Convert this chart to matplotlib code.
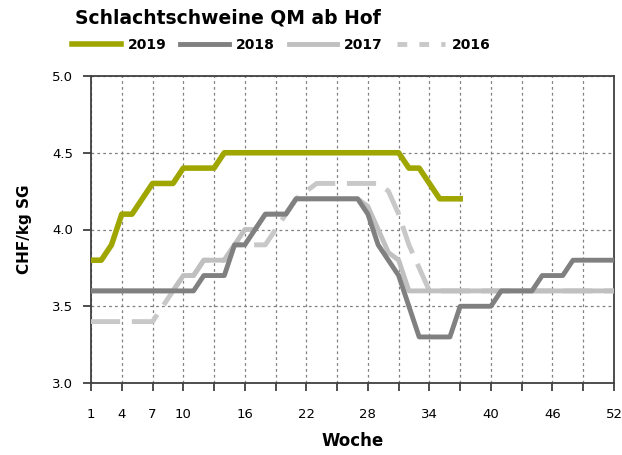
import numpy as np
import matplotlib.pyplot as plt
from matplotlib.lines import Line2D

weeks = np.arange(1, 53)

# Preise CHF/kg SG, je Woche
y2019 = [3.8, 3.8, 3.9, 4.1, 4.1, 4.2, 4.3, 4.3, 4.3, 4.4, 4.4, 4.4, 4.4] + [4.5] * 18 + \
        [4.4, 4.4, 4.3, 4.2, 4.2, 4.2]
y2018 = [3.6] * 11 + [3.7] * 3 + [3.9] * 2 + [4.0] + [4.1] * 3 + [4.2] * 7 + \
        [4.1, 3.9, 3.8, 3.7, 3.5] + [3.3] * 4 + [3.5] * 4 + [3.6] * 4 + [3.7] * 3 + [3.8] * 5
y2017 = [3.6] * 9 + [3.7] * 2 + [3.8] * 3 + [3.9] + [4.0] * 2 + [4.1] * 3 + [4.2] * 7 + \
        [4.15, 4.0, 3.85, 3.8] + [3.6] * 21
y2016 = [3.4] * 7 + [3.5, 3.6, 3.7, 3.7] + [3.8] * 3 + [3.9] * 4 + [4.0, 4.1, 4.2, 4.25] + \
        [4.3] * 7 + [4.25, 4.1, 3.9, 3.75] + [3.6] * 19

labels = ["2019", "2018", "2017", "2016"]
xtick_labels = [1, 4, 7, 10, 16, 22, 28, 34, 40, 46, 52]
yticks = [3.0, 3.5, 4.0, 4.5, 5.0]

c19, c18, c17, c16 = "#a0a600", "#808080", "#c0c0c0", "#c8c8c8"
lw = 3.5

fig = plt.figure(figsize=(6.22, 4.55), dpi=100)
ax = fig.add_axes([91/622, 1-383/455, 523/622, 307/455])

ax.plot(weeks, y2016, color=c16, lw=lw, linestyle=(0, (6, 2.4)), dash_capstyle="butt",
        dash_joinstyle="round", zorder=3)
ax.plot(weeks, y2017, color=c17, lw=lw, solid_joinstyle="round", zorder=4)
ax.plot(weeks, y2018, color=c18, lw=lw, solid_joinstyle="round", zorder=5)
ax.plot(weeks[:len(y2019)], y2019, color=c19, lw=4.0, solid_joinstyle="round", zorder=6)

ax.set_xlim(1, 52)
ax.set_ylim(3.0, 5.0)
xt = np.arange(1, 53, 3)
ax.set_xticks(xt)
ax.set_xticklabels([str(w) if w in xtick_labels else "" for w in xt])
ax.set_yticks(yticks)
ax.set_yticklabels([f"{v:.1f}" for v in yticks])

ax.grid(True, color="#808080", lw=0.9, linestyle=(0, (2.2, 2.5)))
ax.set_axisbelow(True)

for s in ax.spines.values():
    s.set_color("#404040")
    s.set_linewidth(1.3)
ax.tick_params(axis="x", length=6, width=1.3, color="#404040", pad=12, labelsize=9.5)
ax.tick_params(axis="y", length=6, width=1.3, color="#404040", pad=7, labelsize=9.5)

ax.set_xlabel("Woche", fontsize=12, fontweight="bold", labelpad=8)
ax.set_ylabel("CHF/kg SG", fontsize=11, fontweight="bold", labelpad=14)

fig.text(75/622, 1-18/455, "Schlachtschweine QM ab Hof", fontsize=13.5, fontweight="bold",
         va="center", ha="left")

handles = [
    Line2D([], [], color=c19, lw=4.0),
    Line2D([], [], color=c18, lw=lw),
    Line2D([], [], color=c17, lw=lw),
    Line2D([], [], color=c16, lw=lw, linestyle=(0, (2, 2.5)), dash_capstyle="butt"),
]
fig.legend(handles, labels, loc="center left", bbox_to_anchor=(72/622, 1-45/455), ncol=4,
           frameon=False, prop={"weight": "bold", "size": 10}, handlelength=3.5,
           handletextpad=0.5, columnspacing=1.0, borderaxespad=0, borderpad=0)

fig.savefig("out.png", dpi=100)
